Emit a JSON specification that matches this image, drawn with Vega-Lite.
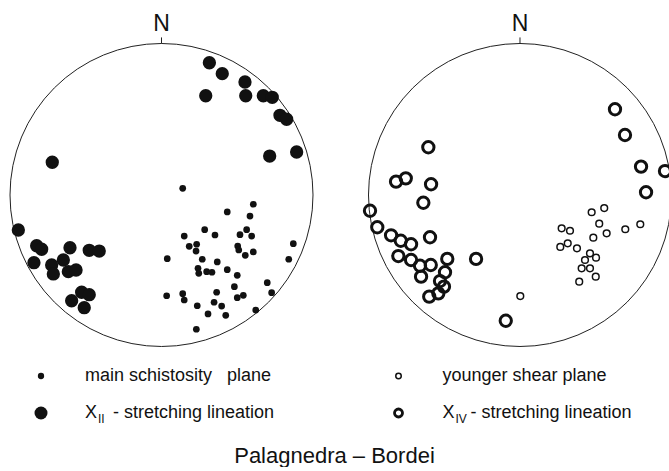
{
  "$schema": "https://vega.github.io/schema/vega-lite/v6.json",
  "padding": 0,
  "background": "white",
  "spacing": 0,
  "config": {"view": {"stroke": null}, "font": "Liberation Sans"},
  "datasets": {
    "points": [
      {"net":"left","type":"schistosity","x":0.140,"y":0.044},
      {"net":"left","type":"schistosity","x":0.606,"y":-0.061},
      {"net":"left","type":"schistosity","x":0.434,"y":-0.112},
      {"net":"left","type":"schistosity","x":0.584,"y":-0.139},
      {"net":"left","type":"schistosity","x":0.285,"y":-0.229},
      {"net":"left","type":"schistosity","x":0.562,"y":-0.229},
      {"net":"left","type":"schistosity","x":0.150,"y":-0.271},
      {"net":"left","type":"schistosity","x":0.353,"y":-0.264},
      {"net":"left","type":"schistosity","x":0.518,"y":-0.262},
      {"net":"left","type":"schistosity","x":0.595,"y":-0.271},
      {"net":"left","type":"schistosity","x":0.232,"y":-0.325},
      {"net":"left","type":"schistosity","x":0.183,"y":-0.339},
      {"net":"left","type":"schistosity","x":0.228,"y":-0.370},
      {"net":"left","type":"schistosity","x":0.503,"y":-0.337},
      {"net":"left","type":"schistosity","x":0.510,"y":-0.363},
      {"net":"left","type":"schistosity","x":0.606,"y":-0.376},
      {"net":"left","type":"schistosity","x":0.553,"y":-0.398},
      {"net":"left","type":"schistosity","x":0.870,"y":-0.321},
      {"net":"left","type":"schistosity","x":0.840,"y":-0.424},
      {"net":"left","type":"schistosity","x":0.038,"y":-0.420},
      {"net":"left","type":"schistosity","x":0.269,"y":-0.424},
      {"net":"left","type":"schistosity","x":0.368,"y":-0.442},
      {"net":"left","type":"schistosity","x":0.241,"y":-0.484},
      {"net":"left","type":"schistosity","x":0.246,"y":-0.517},
      {"net":"left","type":"schistosity","x":0.298,"y":-0.506},
      {"net":"left","type":"schistosity","x":0.333,"y":-0.510},
      {"net":"left","type":"schistosity","x":0.434,"y":-0.493},
      {"net":"left","type":"schistosity","x":0.500,"y":-0.530},
      {"net":"left","type":"schistosity","x":0.481,"y":-0.605},
      {"net":"left","type":"schistosity","x":0.698,"y":-0.579},
      {"net":"left","type":"schistosity","x":0.727,"y":-0.645},
      {"net":"left","type":"schistosity","x":0.034,"y":-0.665},
      {"net":"left","type":"schistosity","x":0.140,"y":-0.651},
      {"net":"left","type":"schistosity","x":0.150,"y":-0.693},
      {"net":"left","type":"schistosity","x":0.364,"y":-0.642},
      {"net":"left","type":"schistosity","x":0.500,"y":-0.678},
      {"net":"left","type":"schistosity","x":0.540,"y":-0.662},
      {"net":"left","type":"schistosity","x":0.347,"y":-0.708},
      {"net":"left","type":"schistosity","x":0.397,"y":-0.733},
      {"net":"left","type":"schistosity","x":0.236,"y":-0.731},
      {"net":"left","type":"schistosity","x":0.307,"y":-0.785},
      {"net":"left","type":"schistosity","x":0.424,"y":-0.794},
      {"net":"left","type":"schistosity","x":0.622,"y":-0.759},
      {"net":"left","type":"schistosity","x":0.230,"y":-0.886},
      {"net":"left","type":"lineation","x":0.316,"y":0.873},
      {"net":"left","type":"lineation","x":0.401,"y":0.801},
      {"net":"left","type":"lineation","x":0.551,"y":0.746},
      {"net":"left","type":"lineation","x":0.292,"y":0.655},
      {"net":"left","type":"lineation","x":0.556,"y":0.655},
      {"net":"left","type":"lineation","x":0.672,"y":0.655},
      {"net":"left","type":"lineation","x":0.731,"y":0.645},
      {"net":"left","type":"lineation","x":0.782,"y":0.526},
      {"net":"left","type":"lineation","x":0.826,"y":0.500},
      {"net":"left","type":"lineation","x":0.714,"y":0.257},
      {"net":"left","type":"lineation","x":0.892,"y":0.284},
      {"net":"left","type":"lineation","x":-0.721,"y":0.216},
      {"net":"left","type":"lineation","x":-0.945,"y":-0.231},
      {"net":"left","type":"lineation","x":-0.824,"y":-0.335},
      {"net":"left","type":"lineation","x":-0.791,"y":-0.358},
      {"net":"left","type":"lineation","x":-0.604,"y":-0.348},
      {"net":"left","type":"lineation","x":-0.477,"y":-0.365},
      {"net":"left","type":"lineation","x":-0.411,"y":-0.370},
      {"net":"left","type":"lineation","x":-0.842,"y":-0.447},
      {"net":"left","type":"lineation","x":-0.725,"y":-0.462},
      {"net":"left","type":"lineation","x":-0.648,"y":-0.429},
      {"net":"left","type":"lineation","x":-0.714,"y":-0.521},
      {"net":"left","type":"lineation","x":-0.615,"y":-0.506},
      {"net":"left","type":"lineation","x":-0.564,"y":-0.495},
      {"net":"left","type":"lineation","x":-0.593,"y":-0.698},
      {"net":"left","type":"lineation","x":-0.527,"y":-0.642},
      {"net":"left","type":"lineation","x":-0.477,"y":-0.658},
      {"net":"left","type":"lineation","x":-0.510,"y":-0.744},
      {"net":"right","type":"lineation","x":0.627,"y":0.566},
      {"net":"right","type":"lineation","x":0.693,"y":0.396},
      {"net":"right","type":"lineation","x":0.799,"y":0.187},
      {"net":"right","type":"lineation","x":0.957,"y":0.158},
      {"net":"right","type":"lineation","x":0.832,"y":0.018},
      {"net":"right","type":"lineation","x":-0.605,"y":0.315},
      {"net":"right","type":"lineation","x":-0.818,"y":0.088},
      {"net":"right","type":"lineation","x":-0.754,"y":0.110},
      {"net":"right","type":"lineation","x":-0.587,"y":0.071},
      {"net":"right","type":"lineation","x":-0.638,"y":-0.051},
      {"net":"right","type":"lineation","x":-0.990,"y":-0.104},
      {"net":"right","type":"lineation","x":-0.942,"y":-0.213},
      {"net":"right","type":"lineation","x":-0.851,"y":-0.266},
      {"net":"right","type":"lineation","x":-0.787,"y":-0.302},
      {"net":"right","type":"lineation","x":-0.719,"y":-0.325},
      {"net":"right","type":"lineation","x":-0.594,"y":-0.279},
      {"net":"right","type":"lineation","x":-0.803,"y":-0.403},
      {"net":"right","type":"lineation","x":-0.719,"y":-0.429},
      {"net":"right","type":"lineation","x":-0.660,"y":-0.467},
      {"net":"right","type":"lineation","x":-0.589,"y":-0.462},
      {"net":"right","type":"lineation","x":-0.480,"y":-0.422},
      {"net":"right","type":"lineation","x":-0.495,"y":-0.510},
      {"net":"right","type":"lineation","x":-0.653,"y":-0.539},
      {"net":"right","type":"lineation","x":-0.528,"y":-0.568},
      {"net":"right","type":"lineation","x":-0.502,"y":-0.605},
      {"net":"right","type":"lineation","x":-0.539,"y":-0.649},
      {"net":"right","type":"lineation","x":-0.599,"y":-0.671},
      {"net":"right","type":"lineation","x":-0.290,"y":-0.422},
      {"net":"right","type":"lineation","x":-0.094,"y":-0.830},
      {"net":"right","type":"shear","x":0.002,"y":-0.667},
      {"net":"right","type":"shear","x":0.275,"y":-0.220},
      {"net":"right","type":"shear","x":0.330,"y":-0.236},
      {"net":"right","type":"shear","x":0.473,"y":-0.114},
      {"net":"right","type":"shear","x":0.556,"y":-0.086},
      {"net":"right","type":"shear","x":0.523,"y":-0.189},
      {"net":"right","type":"shear","x":0.572,"y":-0.253},
      {"net":"right","type":"shear","x":0.695,"y":-0.226},
      {"net":"right","type":"shear","x":0.794,"y":-0.193},
      {"net":"right","type":"shear","x":0.484,"y":-0.282},
      {"net":"right","type":"shear","x":0.315,"y":-0.319},
      {"net":"right","type":"shear","x":0.266,"y":-0.343},
      {"net":"right","type":"shear","x":0.376,"y":-0.352},
      {"net":"right","type":"shear","x":0.462,"y":-0.385},
      {"net":"right","type":"shear","x":0.429,"y":-0.429},
      {"net":"right","type":"shear","x":0.502,"y":-0.414},
      {"net":"right","type":"shear","x":0.407,"y":-0.484},
      {"net":"right","type":"shear","x":0.462,"y":-0.484},
      {"net":"right","type":"shear","x":0.500,"y":-0.539},
      {"net":"right","type":"shear","x":0.391,"y":-0.572}
    ],
    "frame": [
      {"part": "outline", "x": 0, "y": 0},
      {"part": "north tick", "x": 0, "y": 1.0, "y2": 1.04},
      {"part": "north label", "x": 0, "y": 1.13, "label": "N"}
    ],
    "legend": [
      {"col":0,"row":1,"type":"schistosity","label":"main schistosity\u00a0\u00a0\u00a0plane","sub":"","rest":""},
      {"col":0,"row":2,"type":"lineation II","label":"X","sub":"II","rest":"- stretching lineation"},
      {"col":1,"row":1,"type":"shear","label":"younger shear plane","sub":"","rest":""},
      {"col":1,"row":2,"type":"lineation IV","label":"X","sub":"IV","rest":"- stretching lineation"}
    ]
  },
  "vconcat": [
    {
      "hconcat": [
        {
          "width": 341,
          "height": 350,
          "encoding": {
            "x": {"field": "x", "type": "quantitative", "scale": {"domain": [-1.066, 1.1848], "nice": false, "zero": false}, "axis": null},
            "y": {"field": "y", "type": "quantitative", "scale": {"domain": [-1.0231, 1.2871], "nice": false, "zero": false}, "axis": null}
          },
          "layer": [
            {
              "data": {"name": "frame"},
              "transform": [{"filter": "datum.part === 'outline'"}],
              "mark": {"type": "point", "shape": "circle", "size": 91809, "filled": false, "stroke": "#222", "strokeWidth": 1, "opacity": 1}
            },
            {
              "data": {"name": "frame"},
              "transform": [{"filter": "datum.part === 'north tick'"}],
              "mark": {"type": "rule", "stroke": "#222", "strokeWidth": 1},
              "encoding": {"y2": {"field": "y2"}}
            },
            {
              "data": {"name": "frame"},
              "transform": [{"filter": "datum.part === 'north label'"}],
              "mark": {"type": "text", "fontSize": 23, "baseline": "middle", "align": "center", "color": "#111"},
              "encoding": {"text": {"field": "label"}}
            },
            {
              "data": {"name": "points"},
              "transform": [{"filter": "datum.net === 'left' && datum.type === 'schistosity'"}],
              "mark": {"type": "point", "shape": "circle", "filled": true, "size": 45, "color": "#111", "opacity": 1}
            },
            {
              "data": {"name": "points"},
              "transform": [{"filter": "datum.net === 'left' && datum.type === 'lineation'"}],
              "mark": {"type": "point", "shape": "circle", "filled": true, "size": 177, "color": "#111", "opacity": 1}
            }
          ]
        },
        {
          "width": 328,
          "height": 350,
          "encoding": {
            "x": {"field": "x", "type": "quantitative", "scale": {"domain": [-1.1815, 0.9835], "nice": false, "zero": false}, "axis": null},
            "y": {"field": "y", "type": "quantitative", "scale": {"domain": [-1.0231, 1.2871], "nice": false, "zero": false}, "axis": null}
          },
          "layer": [
            {
              "data": {"name": "frame"},
              "transform": [{"filter": "datum.part === 'outline'"}],
              "mark": {"type": "point", "shape": "circle", "size": 91809, "filled": false, "stroke": "#222", "strokeWidth": 1, "opacity": 1}
            },
            {
              "data": {"name": "frame"},
              "transform": [{"filter": "datum.part === 'north tick'"}],
              "mark": {"type": "rule", "stroke": "#222", "strokeWidth": 1},
              "encoding": {"y2": {"field": "y2"}}
            },
            {
              "data": {"name": "frame"},
              "transform": [{"filter": "datum.part === 'north label'"}],
              "mark": {"type": "text", "fontSize": 23, "baseline": "middle", "align": "center", "color": "#111"},
              "encoding": {"text": {"field": "label"}}
            },
            {
              "data": {"name": "points"},
              "transform": [{"filter": "datum.net === 'right' && datum.type === 'shear'"}],
              "mark": {"type": "point", "shape": "circle", "filled": false, "size": 45, "stroke": "#111", "strokeWidth": 1.5, "opacity": 1}
            },
            {
              "data": {"name": "points"},
              "transform": [{"filter": "datum.net === 'right' && datum.type === 'lineation'"}],
              "mark": {"type": "point", "shape": "circle", "filled": false, "size": 128, "stroke": "#111", "strokeWidth": 3, "opacity": 1}
            }
          ]
        }
      ],
      "spacing": 0,
      "bounds": "flush"
    },
    {
      "width": 669,
      "height": 92,
      "data": {"name": "legend"},
      "title": {"text": "Palagnedra – Bordei", "orient": "bottom", "anchor": "middle", "fontSize": 22, "fontWeight": "normal", "font": "Liberation Sans", "color": "#111", "offset": 4},
      "encoding": {
        "x": {"field": "col", "type": "quantitative", "scale": {"domain": [-0.1147, 1.7566], "nice": false, "zero": false}, "axis": null},
        "y": {"field": "row", "type": "quantitative", "scale": {"domain": [0.2973, 2.7838], "nice": false, "zero": false, "reverse": true}, "axis": null}
      },
      "layer": [
        {
          "transform": [{"filter": "datum.type === 'schistosity'"}],
          "mark": {"type": "point", "shape": "circle", "filled": true, "size": 40, "color": "#111", "opacity": 1}
        },
        {
          "transform": [{"filter": "datum.type === 'lineation II'"}],
          "mark": {"type": "point", "shape": "circle", "filled": true, "size": 169, "color": "#111", "opacity": 1}
        },
        {
          "transform": [{"filter": "datum.type === 'shear'"}],
          "mark": {"type": "point", "shape": "circle", "filled": false, "size": 30, "stroke": "#111", "strokeWidth": 1.5, "opacity": 1}
        },
        {
          "transform": [{"filter": "datum.type === 'lineation IV'"}],
          "mark": {"type": "point", "shape": "circle", "filled": false, "size": 64, "stroke": "#111", "strokeWidth": 2.8, "opacity": 1}
        },
        {
          "mark": {"type": "text", "align": "left", "baseline": "middle", "dx": 44, "fontSize": 18, "color": "#111"},
          "encoding": {"text": {"field": "label"}}
        },
        {
          "transform": [{"filter": "datum.row === 2"}],
          "mark": {"type": "text", "align": "left", "baseline": "middle", "dx": 57, "dy": 6, "fontSize": 12, "color": "#111"},
          "encoding": {"text": {"field": "sub"}}
        },
        {
          "transform": [{"filter": "datum.row === 2"}],
          "mark": {"type": "text", "align": "left", "baseline": "middle", "dx": 72, "fontSize": 18, "color": "#111"},
          "encoding": {"text": {"field": "rest"}}
        }
      ]
    }
  ]
}
